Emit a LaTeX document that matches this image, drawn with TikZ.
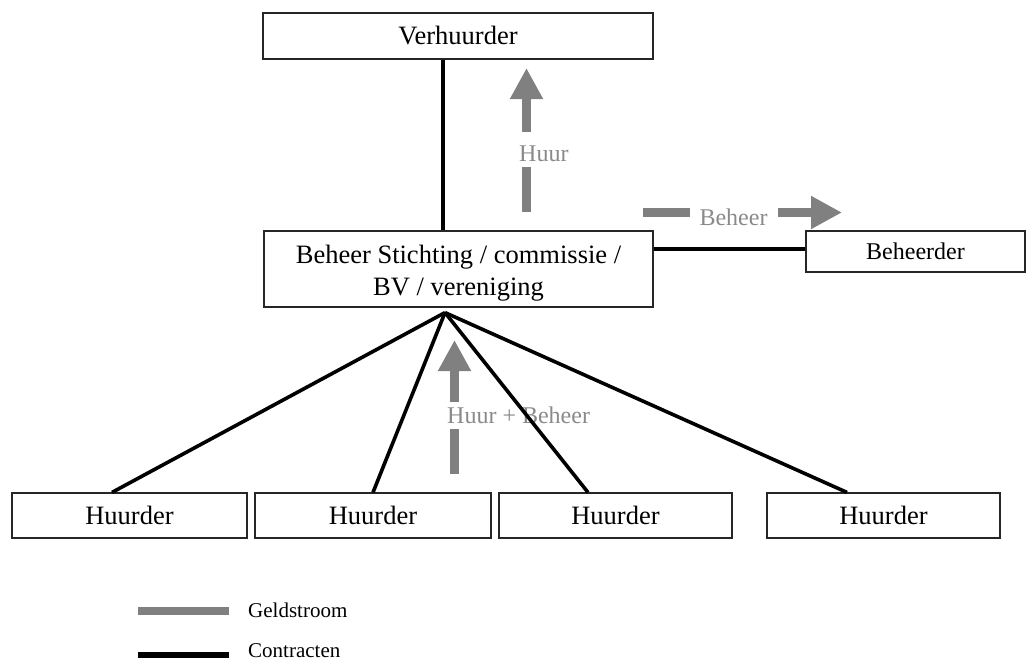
\documentclass[tikz,border=0pt]{standalone}
\usepackage{fontspec}
\setmainfont{Liberation Serif}
\usetikzlibrary{arrows.meta}
\definecolor{geldgray}{RGB}{128,128,128}
\definecolor{labelgray}{RGB}{138,138,138}
\begin{document}
\begin{tikzpicture}[x=1pt,y=-1pt,
  box/.style={draw=black!85, line width=1.2pt, inner sep=0pt, fill=white},
  bigtext/.style={font=\fontsize{26.5}{32}\selectfont},
  contract/.style={line width=3.6pt, black},
  geld/.style={line width=8.5pt, geldgray},
  geldarrow/.style={geld, -{Triangle[width=31pt,length=31pt]}},
  glabel/.style={font=\fontsize{24}{28}\selectfont, text=labelgray, inner sep=0pt},
  legtext/.style={font=\fontsize{21}{25}\selectfont, inner sep=0pt, anchor=west},
]
\useasboundingbox (0,0) rectangle (1028,664);

% boxes
\node[box, bigtext, minimum width=390pt, minimum height=46pt] (verh) at (458,36) {Verhuurder};
\node[box, minimum width=389pt, minimum height=76pt] (beh) at (458.5,269) {};
\node[bigtext, align=center, inner sep=0pt] (behtext) at (458.5,273) {Beheer Stichting / commissie /\\BV / vereniging};
\node[box, font=\fontsize{24}{28}\selectfont, minimum width=219pt, minimum height=41pt] (bhd) at (915.5,251.5) {Beheerder};
\node[box, bigtext, minimum width=235pt, minimum height=45pt] (h1) at (129.5,515.5) {Huurder};
\node[box, bigtext, minimum width=236pt, minimum height=45pt] (h2) at (373,515.5) {Huurder};
\node[box, bigtext, minimum width=233pt, minimum height=45pt] (h3) at (615.5,515.5) {Huurder};
\node[box, bigtext, minimum width=233pt, minimum height=45pt] (h4) at (883.5,515.5) {Huurder};

% contracts
\draw[contract] ([xshift=-15pt]verh.south) -- ([xshift=-15pt]verh.south |- beh.north);
\draw[contract] ([yshift=20pt]beh.east) -- ([yshift=20pt]beh.east -| bhd.west);
\coordinate (apex) at ([xshift=-13.5pt,yshift=-5pt]beh.south);

% money flows
\coordinate (huurA) at (526.5,132);
\coordinate (huurT) at (526.5,68);
\coordinate (huurB1) at (526.5,167);
\coordinate (huurB2) at (526.5,212);
\draw[geldarrow] (huurA) -- (huurT);
\draw[geld] (huurB1) -- (huurB2);
\node[glabel, anchor=west] (huurlbl) at (519,154) {Huur};

\coordinate (behA1) at (643,212.5);
\coordinate (behA2) at (690,212.5);
\coordinate (behB1) at (778,212.5);
\coordinate (behT) at (842,212.5);
\draw[geld] (behA1) -- (behA2);
\draw[geldarrow] (behB1) -- (behT);
\node[glabel] (beheerlbl) at (733.5,217) {Beheer};

\coordinate (hbA) at (454.5,402);
\coordinate (hbT) at (454.5,340);
\coordinate (hbB1) at (454.5,429);
\coordinate (hbB2) at (454.5,474);
\draw[geldarrow] (hbA) -- (hbT);
\draw[geld] (hbB1) -- (hbB2);
\node[glabel, anchor=west] (hblbl) at (447,415) {Huur + Beheer};

% fan of contracts (drawn over the label, as in the original)
\draw[contract] (apex) -- ([xshift=-17.5pt]h1.north);
\draw[contract] (apex) -- (h2.north);
\draw[contract] (apex) -- ([xshift=-27.5pt]h3.north);
\draw[contract] (apex) -- ([xshift=-36.5pt]h4.north);

% legend
\coordinate (lg1) at (138,611);
\coordinate (lg2) at (229,611);
\coordinate (lc1) at (138,655);
\coordinate (lc2) at (229,655);
\draw[geld, line width=8pt] (lg1) -- (lg2);
\draw[black, line width=6pt] (lc1) -- (lc2);
\node[legtext] (leggeld) at (248,610) {Geldstroom};
\node[legtext] (legcontr) at (248,651) {Contracten};
\end{tikzpicture}
\end{document}
